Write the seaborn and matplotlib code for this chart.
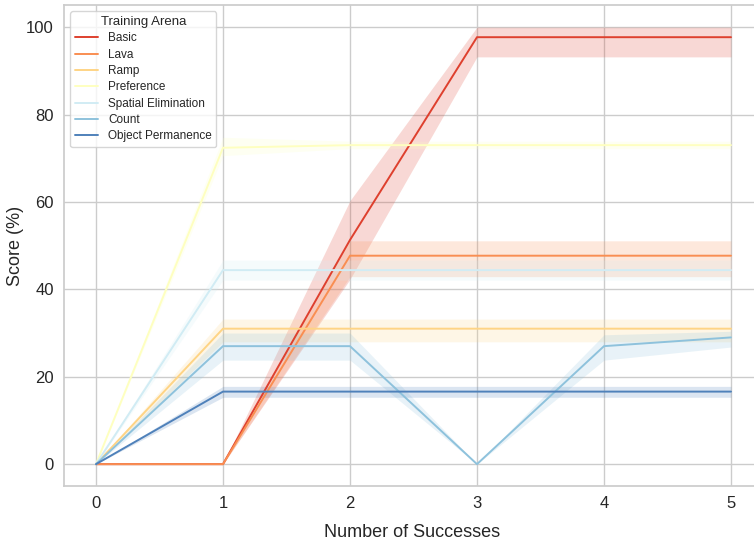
import matplotlib
matplotlib.use("Agg")
import matplotlib.pyplot as plt
import seaborn as sns
import pandas as pd

# mean score and band edges per arena
successes = [0, 1, 2, 3, 4, 5]
arenas = ["Basic", "Lava", "Ramp", "Preference", "Spatial Elimination",
          "Count", "Object Permanence"]

basic_mean = [0, 0, 51.3, 97.7, 97.7, 97.7]
basic_lo = [0, 0, 42.3, 93.2, 93.2, 93.2]
basic_hi = [0, 0, 60.3, 100, 100, 100]

lava_mean = [0, 0, 47.7, 47.7, 47.7, 47.7]
lava_lo = [0, 0, 42.9, 42.9, 42.9, 42.9]
lava_hi = [0, 0, 51.1, 51.1, 51.1, 51.1]

ramp_mean = [0, 31.0, 31.0, 31.0, 31.0, 31.0]
ramp_lo = [0, 28.0, 28.0, 28.0, 28.0, 28.0]
ramp_hi = [0, 33.2, 33.2, 33.2, 33.2, 33.2]

pref_mean = [0, 72.4, 73.0, 73.0, 73.0, 73.0]
pref_lo = [0, 70.6, 72.2, 72.2, 72.2, 72.2]
pref_hi = [0, 74.8, 73.9, 73.9, 73.9, 73.9]

spatial_mean = [0, 44.4, 44.4, 44.4, 44.4, 44.4]
spatial_lo = [0, 42.1, 42.1, 42.1, 42.1, 42.1]
spatial_hi = [0, 46.7, 46.7, 46.7, 46.7, 46.7]

count_mean = [0, 27.0, 27.0, 0, 27.0, 29.0]
count_lo = [0, 23.8, 23.8, 0, 23.8, 26.8]
count_hi = [0, 30.0, 30.0, 0, 29.6, 30.4]

objperm_mean = [0, 16.6, 16.6, 16.6, 16.6, 16.6]
objperm_lo = [0, 15.3, 15.3, 15.3, 15.3, 15.3]
objperm_hi = [0, 17.8, 17.8, 17.8, 17.8, 17.8]

means = [basic_mean, lava_mean, ramp_mean, pref_mean, spatial_mean, count_mean, objperm_mean]
lows = [basic_lo, lava_lo, ramp_lo, pref_lo, spatial_lo, count_lo, objperm_lo]
highs = [basic_hi, lava_hi, ramp_hi, pref_hi, spatial_hi, count_hi, objperm_hi]

rows = []
for name, m, lo, hi in zip(arenas, means, lows, highs):
    for x, v, l, h in zip(successes, m, lo, hi):
        rows.append({"Number of Successes": x, "Score (%)": v,
                     "lo": l, "hi": h, "Training Arena": name})
df = pd.DataFrame(rows)

sns.set_theme(style="whitegrid")
plt.rcParams["font.family"] = ["Liberation Sans", "DejaVu Sans"]

palette = sns.color_palette("RdYlBu", len(arenas))

fig = plt.figure(figsize=(7.54, 5.46), dpi=100)
ax = fig.add_axes([0.0852, 0.1099, 0.9264, 0.8804])

sns.lineplot(data=df, x="Number of Successes", y="Score (%)",
             hue="Training Arena", hue_order=arenas, palette=palette,
             linewidth=1.4, ax=ax)

# confidence bands
for name, col in zip(arenas, palette):
    sub = df[df["Training Arena"] == name]
    ax.fill_between(sub["Number of Successes"], sub["lo"], sub["hi"],
                    color=col, alpha=0.2, linewidth=0)

ax.set_xlim(-0.25, 5.25)
ax.set_ylim(-5, 105)
ax.set_xticks(successes)
ax.set_yticks([0, 20, 40, 60, 80, 100])
ax.tick_params(axis="x", labelsize=12, pad=1.5)
ax.tick_params(axis="y", labelsize=12, pad=1.5)
ax.set_xlabel("Number of Successes", fontsize=13)
ax.set_ylabel("Score (%)", fontsize=13)
ax.xaxis.set_label_coords(0.498, -0.079)
ax.yaxis.set_label_coords(-0.0576, 0.5)

leg = ax.legend(title="Training Arena", loc="upper left", fontsize=8.5,
                title_fontsize=9.5, labelspacing=0.37, frameon=True)

fig.savefig("out.png", dpi=100)
plt.close()
